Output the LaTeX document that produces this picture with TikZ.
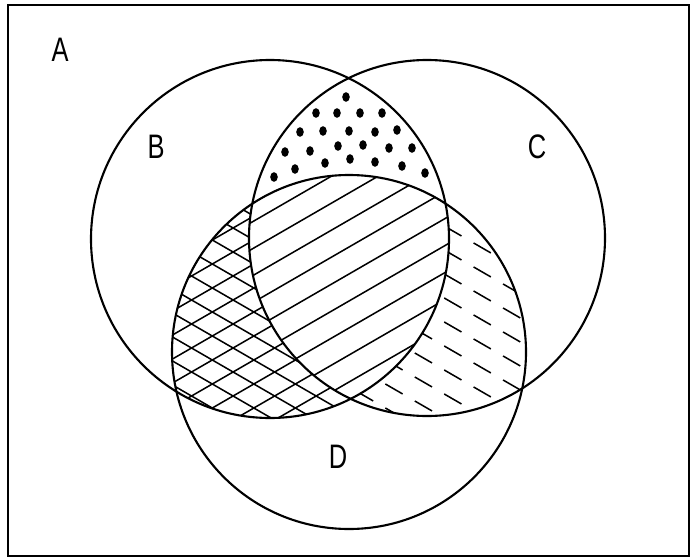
\documentclass[tikz,border=0pt]{standalone}
\usepackage{fontspec}
\newfontfamily\vennfont[FakeStretch=0.75]{Liberation Sans}
\usetikzlibrary{calc}

% circles of the diagram (pixel units)
\newcommand{\setB}{(270,239) circle (179)}
\newcommand{\setC}{(427,238) circle (178)}
\newcommand{\setD}{(349,352) circle (177)}

\begin{document}
\begin{tikzpicture}[x=0.03cm, y=-0.03cm,
    rim/.style={line width=1.8pt},
    hatchline/.style={line width=1.3pt},
    dashline/.style={line width=1.3pt, dash pattern=on 17pt off 12pt},
    setlabel/.style={font=\vennfont\fontsize{29}{29}\selectfont, inner sep=0pt}]

\useasboundingbox (0,0) rectangle (691,560);

% === Puntos: B y C sin D ===
\foreach \px/\py in {346/97, 316/113, 337/113, 360/113, 382/113,
    300/132, 323/131, 349/131, 375/132, 397/130,
    285/152, 310/151, 338/146, 363/145, 389/148, 412/148,
    295/169, 325/163, 350/159, 375/162, 402/166, 425/173, 274/177} {
    \fill (\px,\py) ellipse (3.8 and 4.8);
}

% === Cuadriculado: B y D sin C ===
\begin{scope}
    \clip \setB;
    \clip \setD;
    \foreach \k in {180,204,...,560} {
        \draw[hatchline] (150,\k) -- ++(450,-260);
    }
    \foreach \k in {60,84,...,420} {
        \draw[hatchline] (150,\k) -- ++(450,260);
    }
\end{scope}

% === Trazos: C y D sin B ===
\begin{scope}
    \clip \setC;
    \clip \setD;
    \foreach \k in {-40,-16,...,330} {
        \draw[dashline] (150,\k) -- ++(450,260);
    }
\end{scope}

% === Rayado: B, C y D ===
\begin{scope}
    \clip \setB;
    \clip \setC;
    \clip \setD;
    \fill[white] (0,0) rectangle (691,560);
    \foreach \k in {200,227,...,610} {
        \draw[hatchline] (150,\k) -- ++(450,-260);
    }
\end{scope}

% === Contornos ===
\draw[rim] \setB;
\draw[rim] \setC;
\draw[rim] \setD;
\draw[rim] (8,5) rectangle (689,556);

% === Etiquetas ===
\node[setlabel] (labA) at (60,50) {A};
\node[setlabel] (labB) at (156,147) {B};
\node[setlabel] (labC) at (537,147) {C};
\node[setlabel] (labD) at (338,457) {D};

\end{tikzpicture}
\end{document}
